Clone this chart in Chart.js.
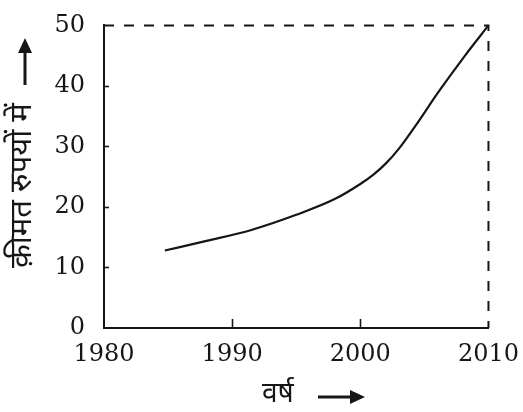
<!DOCTYPE html>
<html>
<head>
<meta charset="utf-8">
<script src="https://cdn.jsdelivr.net/npm/chart.js@4/dist/chart.umd.min.js"></script>
<style>
  html, body { margin: 0; padding: 0; background: #fff; }
  canvas { display: block; }
</style>
</head>
<body>
<canvas id="c" width="523" height="412"></canvas>
<script>
// Price over the years
const years  = [1984.75, 1988, 1991.5, 1995, 1998, 2000, 2001, 2002, 2003, 2004.4, 2006.1, 2008.2, 2010];
const prices = [12.8, 14.4, 16.2, 18.7, 21.3, 23.8, 25.3, 27.2, 29.6, 33.7, 39.0, 45.1, 50.0];

// Guide lines to the final point (dashed)
const guideYears  = [1980, 2010, 2010];
const guidePrices = [50, 50, 0];

// Axis ticks and titles
const yearTicks  = [1980, 1990, 2000, 2010];
const priceTicks = [0, 10, 20, 30, 40, 50];
const xTitle = 'वर्ष';
const yTitle = 'क़ीमत रुपयों में';

const INK = '#161616';
const DEVA = '"Noto Sans Devanagari", "Lohit Devanagari", "Noto Sans", sans-serif';

function arrow(ctx, x1, y1, x2, y2) {
  const a = Math.atan2(y2 - y1, x2 - x1);
  const head = 15, half = 7;
  const c = Math.cos(a), s = Math.sin(a);
  ctx.beginPath();
  ctx.moveTo(x1, y1);
  ctx.lineTo(x2 - head * c, y2 - head * s);
  ctx.lineWidth = 3;
  ctx.strokeStyle = INK;
  ctx.stroke();
  ctx.beginPath();
  ctx.moveTo(x2, y2);
  ctx.lineTo(x2 - head * c + half * s, y2 - head * s - half * c);
  ctx.lineTo(x2 - head * c - half * s, y2 - head * s + half * c);
  ctx.closePath();
  ctx.fillStyle = INK;
  ctx.fill();
}

// Inward tick marks and the axis titles with arrows
const decor = {
  id: 'decor',
  afterDraw(chart) {
    const { ctx, chartArea: area, scales: { x, y } } = chart;
    ctx.save();
    ctx.strokeStyle = INK;
    ctx.lineWidth = 1.6;
    yearTicks.slice(1, -1).forEach(v => {
      const px = Math.round(x.getPixelForValue(v)) + 0.5;
      ctx.beginPath();
      ctx.moveTo(px, area.bottom);
      ctx.lineTo(px, area.bottom - 9);
      ctx.stroke();
    });
    priceTicks.slice(1, -1).forEach(v => {
      const py = Math.round(y.getPixelForValue(v)) + 0.5;
      ctx.beginPath();
      ctx.moveTo(area.left - 1, py);
      ctx.lineTo(area.left + 5, py);
      ctx.stroke();
    });

    // x title
    ctx.fillStyle = INK;
    ctx.font = '28px ' + DEVA;
    ctx.textAlign = 'left';
    ctx.textBaseline = 'middle';
    ctx.fillText(xTitle, 262, 397);
    arrow(ctx, 318, 397, 365, 397);

    // y title (rotated)
    ctx.save();
    ctx.translate(25, 268);
    ctx.rotate(-Math.PI / 2);
    ctx.font = '31px ' + DEVA;
    ctx.textAlign = 'left';
    ctx.textBaseline = 'middle';
    ctx.fillText(yTitle, 0, 0);
    ctx.restore();
    arrow(ctx, 25, 85, 25, 38);
    ctx.restore();
  }
};

const tickFont = { family: '"DejaVu Serif", "Liberation Serif", serif', size: 24 };

new Chart(document.getElementById('c'), {
  type: 'line',
  data: {
    datasets: [
      {
        data: years.map((v, i) => ({ x: v, y: prices[i] })),
        borderColor: INK,
        borderWidth: 2.2,
        pointRadius: 0,
        cubicInterpolationMode: 'monotone',
        clip: 6
      },
      {
        data: guideYears.map((v, i) => ({ x: v, y: guidePrices[i] })),
        borderColor: INK,
        borderWidth: 2,
        borderDash: [10, 10],
        pointRadius: 0,
        tension: 0,
        clip: 6
      }
    ]
  },
  options: {
    responsive: false,
    devicePixelRatio: 1,
    animation: false,
    events: [],
    layout: { padding: { top: 20, right: 34, left: 0, bottom: 0 } },
    plugins: { legend: { display: false }, tooltip: { enabled: false } },
    scales: {
      x: {
        type: 'linear',
        min: yearTicks[0],
        max: yearTicks[yearTicks.length - 1],
        afterBuildTicks(scale) { scale.ticks = yearTicks.map(v => ({ value: v })); },
        afterFit(scale) { scale.height = 84; },
        grid: { display: false },
        border: { display: true, color: INK, width: 2 },
        ticks: { color: INK, font: tickFont, padding: 4, maxRotation: 0, callback: v => String(v) }
      },
      y: {
        min: priceTicks[0],
        max: priceTicks[priceTicks.length - 1],
        afterBuildTicks(scale) { scale.ticks = priceTicks.map(v => ({ value: v })); },
        afterFit(scale) { scale.width = 104; },
        grid: { display: false },
        border: { display: true, color: INK, width: 2 },
        ticks: { color: INK, font: tickFont, padding: 11, callback: v => String(v) }
      }
    }
  },
  plugins: [decor]
});
</script>
</body>
</html>
